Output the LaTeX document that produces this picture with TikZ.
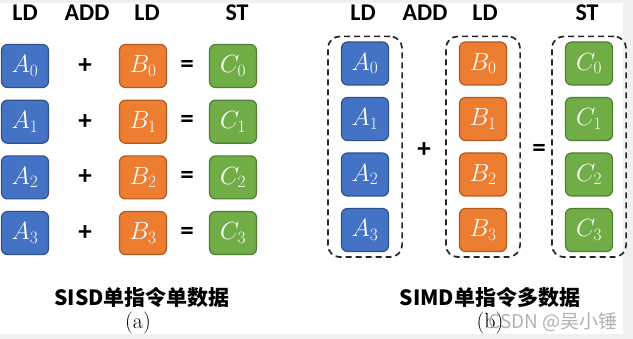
\documentclass[tikz,border=0pt]{standalone}
\usepackage{fontspec}
\usetikzlibrary{fit}
\newfontfamily\hdfont{Carlito}
\newfontfamily\cjkfont{Noto Sans CJK SC}
\definecolor{regA}{HTML}{4472C4}
\definecolor{regAline}{HTML}{2F528F}
\definecolor{regB}{HTML}{ED7D31}
\definecolor{regBline}{HTML}{AE5A21}
\definecolor{regC}{HTML}{70AD47}
\definecolor{regCline}{HTML}{507E32}
\begin{document}
\begin{tikzpicture}[x=1pt, y=-1pt,
  simdreg/.style = {line width=1.2pt, rounded corners=6pt, minimum width=47pt,
    minimum height=43pt, inner sep=0pt, text=white, font=\fontsize{23}{26}\selectfont},
  simdA/.style = {simdreg, fill=regA, draw=regAline},
  simdB/.style = {simdreg, fill=regB, draw=regBline},
  simdC/.style = {simdreg, fill=regC, draw=regCline},
  simdhead/.style = {font=\hdfont\bfseries\fontsize{24}{28}\selectfont},
  simdop/.style = {font=\hdfont\bfseries\fontsize{27}{30}\selectfont},
  simdgrp/.style = {draw=black!85, line width=1.7pt, dash pattern=on 6pt off 4pt,
    rounded corners=12pt, inner xsep=13pt, inner ysep=5pt},
  simdtitle/.style = {font=\cjkfont\bfseries\fontsize{21}{24}\selectfont},
  simdcap/.style = {font=\fontsize{22}{24}\selectfont}
]
  % page
  \useasboundingbox (0,0) rectangle (633,339);
  \fill[black!6] (0,0) rectangle (633,339);
  \fill[white] (0,3) rectangle (623,334);
  % (a) SISD
  \foreach \t/\x in {LD/25, ADD/87, LD/147, ST/237}
    \node[simdhead] (sh\x) at (\x,13) {\t};
  \foreach \i in {0,...,3} {
    \node[simdA] (sa\i) at (25,66+55.7*\i) {$A_{\i}$};
    \node[simdop] (sp\i) at (85,66+55.7*\i) {+};
    \node[simdB] (sb\i) at (143,66+55.7*\i) {$B_{\i}$};
    \node[simdop] (se\i) at (187,66+55.7*\i) {=};
    \node[simdC] (sc\i) at (233,66+55.7*\i) {$C_{\i}$};
  }
  \node[simdtitle] (stitle) at (142,297) {SISD单指令单数据};
  \node[simdcap] (scap) at (138,323) {(a)};
  % (b) SIMD
  \foreach \t/\x in {LD/363, ADD/425, LD/485, ST/587}
    \node[simdhead] (mh\x) at (\x,13) {\t};
  \foreach \i in {0,...,3} {
    \node[simdA] (ma\i) at (365,63.5+55.5*\i) {$A_{\i}$};
    \node[simdB] (mb\i) at (483,63.5+55.5*\i) {$B_{\i}$};
    \node[simdC] (mc\i) at (589,63.5+55.5*\i) {$C_{\i}$};
  }
  \node[simdgrp, fit=(ma0)(ma3)] (mga) {};
  \node[simdgrp, fit=(mb0)(mb3)] (mgb) {};
  \node[simdgrp, fit=(mc0)(mc3)] (mgc) {};
  \node[simdop] (mplus) at (424,150) {+};
  \node[simdop] (meq) at (539,150) {=};
  \node[simdtitle] (mtitle) at (490,297) {SIMD单指令多数据};
  \node[simdcap] (mcap) at (490,323) {(b)};
  \node[font=\cjkfont\fontsize{19}{21}\selectfont, text=black!30] (wm) at (553,322) {CSDN @吴小锤};
\end{tikzpicture}
\end{document}
